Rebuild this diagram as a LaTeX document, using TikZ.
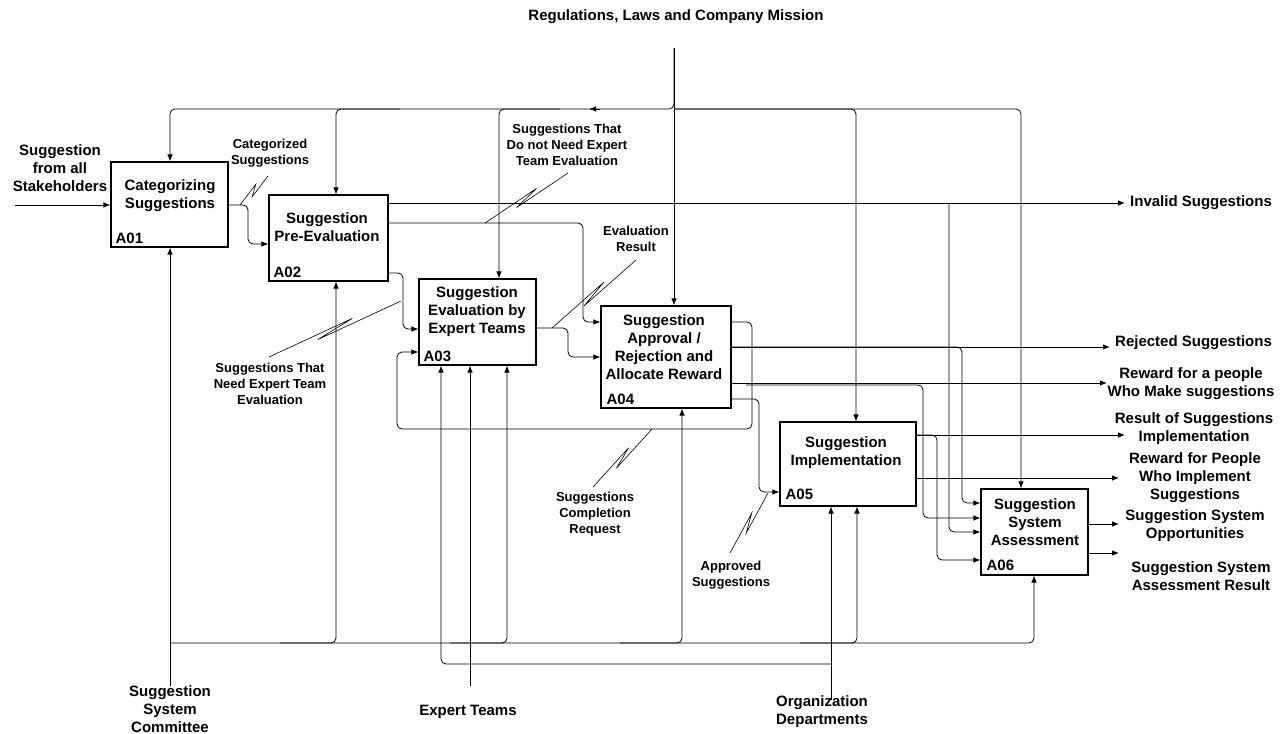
\documentclass[tikz,border=0pt]{standalone}
\usepackage{fontspec}
\setmainfont{Liberation Sans}
\usetikzlibrary{arrows.meta,calc}
\tikzset{
  proc/.style={draw, line width=1.1pt, inner sep=0pt},
  conn/.style={line width=0.8pt, rounded corners=5pt},
  arr/.style={conn, -{Latex[length=7pt,width=5.5pt]}},
  sq/.style={line width=0.6pt},
  ttl/.style={font=\bfseries\fontsize{15}{18}\selectfont, align=center, inner sep=0pt},
  idl/.style={font=\bfseries\fontsize{15}{18}\selectfont, inner sep=0pt, anchor=base west},
  lbl/.style={font=\bfseries\fontsize{13}{16}\selectfont, align=center, inner sep=0pt},
  outl/.style={font=\bfseries\fontsize{15}{18}\selectfont, align=center, inner sep=0pt},
}
\newcommand\squig[2]{\draw[sq] (#1) -- ($(#1)!0.64!(#2)!3pt!90:(#2)$) -- ($(#1)!0.36!(#2)!3pt!-90:(#2)$) -- (#2);}
\begin{document}
\begin{tikzpicture}[x=1pt,y=-1pt]
\useasboundingbox (0,0) rectangle (1284,733);

% boxes
\node[proc, minimum width=117pt, minimum height=85pt] (A1) at (169.5,204.5) {};
\node[proc, minimum width=119pt, minimum height=86pt] (A2) at (328.5,238) {};
\node[proc, minimum width=117pt, minimum height=86pt] (A3) at (477.5,322) {};
\node[proc, minimum width=130pt, minimum height=102pt] (A4) at (666,357) {};
\node[proc, minimum width=136pt, minimum height=84pt] (A5) at (848,464) {};
\node[proc, minimum width=107pt, minimum height=86pt] (A6) at (1034.5,532) {};

\node[ttl] (t1) at (170,196) {Categorizing\\Suggestions};
\node[ttl] (t2) at (327,227) {Suggestion\\Pre-Evaluation};
\node[ttl] (t3) at (477,312) {Suggestion\\Evaluation by\\Expert Teams};
\node[ttl] (t4) at (664,347) {Suggestion\\Approval /\\Rejection and\\Allocate Reward};
\node[ttl] (t5) at (846,453) {Suggestion\\Implementation};
\node[ttl] (t6) at (1035,522) {Suggestion\\System\\Assessment};

\node[idl] (i1) at ($(A1.south west)+(5,-4)$) {A01};
\node[idl] (i2) at ($(A2.south west)+(5,-4)$) {A02};
\node[idl] (i3) at ($(A3.south west)+(5,-4)$) {A03};
\node[idl] (i4) at ($(A4.south west)+(6,-4)$) {A04};
\node[idl] (i5) at ($(A5.south west)+(6,-7)$) {A05};
\node[idl] (i6) at ($(A6.south west)+(6,-5)$) {A06};

% input from stakeholders
\coordinate (in1) at (15,205);
\draw[arr] (in1) -- (A1.west |- in1);
\node[outl] (l-in1) at (60,168) {Suggestion\\from all\\Stakeholders};

% A01 -> A02
\draw[arr] (A1.east |- 0,205) -- (248,205) -- (248,244) -- (A2.west |- 0,244);
\node[lbl] (l-cat) at (270,153) {Categorized\\Suggestions};
\coordinate (s1a) at (240,205); \coordinate (s1b) at (268,176);
\squig{s1a}{s1b}

% A02 -> invalid
\coordinate (inv) at (1125,203);
\draw[arr] (A2.east |- inv) -- (inv);
\node[outl, anchor=west] (l-inv) at (1130,203) {Invalid Suggestions};
\draw[arr] (949,203) -- (949,532) -- (A6.west |- 0,532);

% A02 -> A04
\draw[arr] (A2.east |- 0,223) -- (583,223) -- (583,322) -- (A4.west |- 0,322);
\node[lbl] (l-dnn) at (567,145) {Suggestions That\\Do not Need Expert\\Team Evaluation};
\coordinate (s2a) at (485,223); \coordinate (s2b) at (568,173);
\squig{s2a}{s2b}

% A02 -> A03
\draw[arr] (A2.east |- 0,273) -- (403,273) -- (403,329) -- (A3.west |- 0,329);
\node[lbl] (l-nee) at (270,384) {Suggestions That\\Need Expert Team\\Evaluation};
\coordinate (s3a) at (401,301); \coordinate (s3b) at (269,357);
\squig{s3a}{s3b}

% A03 -> A04
\draw[arr] (A3.east |- 0,328) -- (568,328) -- (568,357) -- (A4.west |- 0,357);
\node[lbl] (l-evr) at (636,239) {Evaluation\\Result};
\coordinate (s4a) at (552,328); \coordinate (s4b) at (636,260);
\squig{s4a}{s4b}

% A04 -> A03 feedback
\draw[arr] (A4.east |- 0,322) -- (752,322) -- (752,429) -- (397,429) -- (397,352) -- (A3.west |- 0,352);
\node[lbl] (l-scr) at (595,514) {Suggestions\\Completion\\Request};
\coordinate (s5a) at (652,429); \coordinate (s5b) at (593,487);
\squig{s5a}{s5b}

% A04 -> rejected
\coordinate (rej) at (1110,347);
\draw[arr] (A4.east |- rej) -- (rej);
\node[outl, anchor=west] (l-rej) at (1115,343) {Rejected Suggestions};
\draw[arr] (A4.east |- 0,347) -- (962,347) -- (962,503) -- (A6.west |- 0,503);

% A04 -> reward makers
\coordinate (rw1) at (1107,383);
\draw[arr] (A4.east |- rw1) -- (rw1);
\node[outl] (l-rw1) at (1191,384) {Reward for a people\\Who Make suggestions};
\draw[arr] (746,385) -- (923,385) -- (923,518) -- (A6.west |- 0,518);

% A04 -> A05
\draw[arr] (A4.east |- 0,399) -- (759,399) -- (759,492) -- (A5.west |- 0,492);
\node[lbl] (l-app) at (731,575) {Approved\\Suggestions};
\coordinate (s6a) at (768,493); \coordinate (s6b) at (730,553);
\squig{s6a}{s6b}

% A05 outputs
\coordinate (res) at (1125,435);
\draw[arr] (A5.east |- res) -- (res);
\node[outl] (l-res) at (1194,429) {Result of Suggestions\\Implementation};
\draw[arr] (A5.east |- 0,435) -- (937,435) -- (937,560) -- (A6.west |- 0,560);
\coordinate (rw2) at (1119,478);
\draw[arr] (A5.east |- rw2) -- (rw2);
\node[outl] (l-rw2) at (1195,478) {Reward for People\\Who Implement\\Suggestions};

% A06 outputs
\coordinate (opp) at (1119,524);
\draw[arr] (A6.east |- opp) -- (opp);
\node[outl] (l-opp) at (1195,526) {Suggestion System\\Opportunities};
\coordinate (asr) at (1119,553);
\draw[arr] (A6.east |- asr) -- (asr);
\node[outl] (l-asr) at (1201,576) {Suggestion System\\Assessment Result};

% top control
\node[outl] (l-reg) at (676,17) {Regulations, Laws and Company Mission};
\coordinate (reg) at (674,48);
\draw[arr] (reg) -- (reg |- A4.north);
\draw[arr] (reg) -- (674,109) -- (170,109) -- (A1.north -| 170,0);
\draw[arr] (600,109) -- (589,109);
\draw[arr] (400,109) -- (336,109) -- (A2.north -| 336,0);
\draw[arr] (560,109) -- (499,109) -- (A3.north -| 499,0);
\draw[arr] (674,109) -- (856,109) -- (A5.north -| 856,0);
\draw[arr] (674,109) -- (1021,109) -- (A6.north -| 1021,0);

% bottom: committee
\coordinate (ssc) at (170,686);
\draw[arr] (ssc) -- (A1.south -| ssc);
\node[outl] (l-ssc) at (170,709) {Suggestion\\System\\Committee};
\draw[arr] (170,643) -- (1034,643) -- (A6.south -| 1034,0);
\draw[arr] (280,643) -- (336,643) -- (A2.south -| 336,0);
\draw[arr] (450,643) -- (507,643) -- (A3.south -| 507,0);
\draw[arr] (620,643) -- (682,643) -- (A4.south -| 682,0);
\draw[arr] (800,643) -- (857,643) -- (A5.south -| 857,0);

% expert teams
\coordinate (et) at (470,686);
\draw[arr] (et) -- (A3.south -| et);
\node[outl] (l-et) at (468,712) {Expert Teams};

% organization departments
\coordinate (od) at (831,700);
\draw[arr] (od) -- (A5.south -| od);
\draw[arr] (831,664) -- (441,664) -- (A3.south -| 441,0);
\node[outl] (l-od) at (822,712) {Organization\\Departments};
\end{tikzpicture}
\end{document}
